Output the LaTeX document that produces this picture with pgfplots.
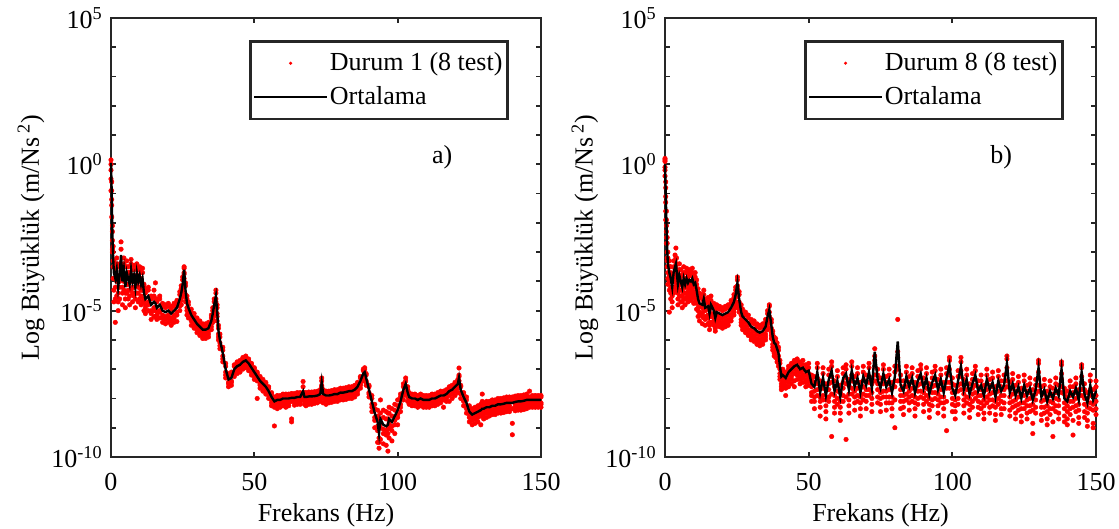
\documentclass[border=0pt]{standalone}
\usepackage{fontspec}
\setmainfont{Liberation Serif}
\usepackage{pgfplots}
\pgfplotsset{compat=1.18}
\usepackage{pgfplotstable}
\definecolor{axgray}{RGB}{38,38,38}

% Magnitudes are stored as log10 values: x = frequency (Hz), m = mean, a..f = individual tests
\pgfplotstableread{
x m a b c d e
0 0.05 0.15 -0.2 -0.5 -0.9 0.0
0.25 -1.0 -0.6 -1.4 -1.8 -0.9 -1.2
0.5 -2.5 -2.1 -2.9 -2.6 -2.3 -3.0
0.75 -3.2 -2.8 -3.5 -3.9 -3.0 -3.3
1 -3.7 -3.3 -4.3 -4.7 -3.5 -3.9
1.5 -3.9 -3.5 -4.6 -5.4 -3.6 -4.2
2 -3.6 -3.2 -4.0 -4.5 -3.4 -3.9
2.5 -4.2 -3.8 -4.7 -5.0 -3.9 -4.4
3 -3.8 -3.4 -4.2 -4.6 -3.5 -4.0
3.5 -3.1 -2.65 -3.4 -3.9 -2.9 -3.6
4 -4.0 -3.6 -4.4 -4.8 -3.7 -4.2
4.5 -3.6 -3.2 -4.0 -4.3 -3.4 -3.8
5 -4.2 -3.8 -4.6 -4.9 -3.9 -4.4
5.5 -3.7 -3.3 -4.1 -4.4 -3.5 -3.9
6 -3.9 -3.5 -4.3 -4.6 -3.7 -4.1
6.5 -4.1 -3.7 -4.5 -4.8 -3.9 -4.3
7 -3.6 -3.25 -4.0 -4.3 -3.4 -3.8
7.5 -4.0 -3.6 -4.4 -4.7 -3.8 -4.2
8 -3.8 -3.45 -4.2 -4.5 -3.6 -4.0
8.5 -4.2 -3.8 -4.6 -4.9 -4.0 -4.4
9 -3.7 -3.4 -4.1 -4.4 -3.5 -3.9
9.5 -4.0 -3.6 -4.4 -4.7 -3.8 -4.2
10 -3.8 -3.5 -4.2 -4.6 -3.6 -4.0
10.5 -4.1 -3.7 -4.5 -4.8 -3.9 -4.3
11 -3.9 -3.55 -4.3 -4.7 -3.7 -4.1
11.5 -4.4 -4.1 -4.7 -5.0 -4.2 -4.6
12 -4.6 -4.3 -4.9 -5.1 -4.4 -4.8
13 -4.5 -4.2 -4.8 -5.0 -4.3 -4.7
14 -4.8 -4.5 -5.1 -5.3 -4.6 -5.0
15 -4.7 -4.3 -5.0 -5.2 -4.5 -4.9
15.5 -4.75 -4.05 -5.0 -5.2 -4.6 -4.9
16 -4.9 -4.6 -5.15 -5.3 -4.7 -5.0
17 -4.8 -4.5 -5.05 -5.25 -4.6 -5.0
18 -5.0 -4.75 -5.25 -5.4 -4.85 -5.15
19 -5.05 -4.8 -5.3 -5.45 -4.9 -5.2
20 -5.0 -4.75 -5.25 -5.4 -4.85 -5.15
21 -5.1 -4.85 -5.35 -5.5 -4.95 -5.25
22 -5.0 -4.75 -5.25 -5.4 -4.85 -5.15
23 -4.9 -4.65 -5.15 -5.37 -4.75 -5.05
24 -4.6 -4.35 -4.85 -5.0 -4.45 -4.75
24.5 -4.4 -4.15 -4.65 -4.8 -4.25 -4.55
25 -4.1 -3.85 -4.35 -4.5 -3.95 -4.25
25.5 -3.6 -3.5 -3.75 -3.9 -3.55 -3.7
26 -4.3 -4.05 -4.55 -4.7 -4.15 -4.45
26.5 -4.75 -4.5 -5.0 -5.15 -4.6 -4.9
27 -4.9 -4.7 -5.1 -5.25 -4.8 -5.0
28 -5.15 -4.95 -5.35 -5.5 -5.05 -5.25
29 -5.3 -5.1 -5.5 -5.6 -5.2 -5.4
30 -5.45 -5.25 -5.65 -5.75 -5.35 -5.55
31 -5.55 -5.35 -5.75 -5.85 -5.45 -5.65
32 -5.65 -5.45 -5.85 -5.95 -5.55 -5.75
33 -5.65 -5.45 -5.85 -5.95 -5.55 -5.75
34 -5.6 -5.4 -5.8 -5.9 -5.5 -5.7
35 -5.35 -5.15 -5.55 -5.65 -5.25 -5.45
35.5 -5.1 -4.9 -5.3 -5.4 -5.0 -5.2
36 -4.8 -4.6 -5.0 -5.1 -4.7 -4.9
36.6 -4.5 -4.3 -4.7 -4.85 -4.4 -4.6
37 -5.0 -4.8 -5.2 -5.35 -4.9 -5.1
37.5 -5.7 -5.5 -5.9 -6.0 -5.6 -5.8
38 -6.0 -5.8 -6.2 -6.3 -5.9 -6.1
39 -6.45 -6.25 -6.65 -6.75 -6.35 -6.55
40 -7.0 -6.8 -7.2 -7.3 -6.9 -7.1
41 -7.35 -7.15 -7.5 -7.6 -7.25 -7.45
42 -7.3 -7.1 -7.45 -7.55 -7.2 -7.4
43 -7.0 -6.85 -7.15 -7.25 -6.9 -7.1
44 -6.9 -6.75 -7.05 -7.15 -6.8 -7.0
45 -6.85 -6.7 -7.0 -7.1 -6.75 -6.95
46 -6.75 -6.6 -6.9 -7.0 -6.65 -6.85
47 -6.7 -6.55 -6.85 -6.95 -6.6 -6.8
48 -6.8 -6.65 -6.95 -7.05 -6.7 -6.9
49 -6.95 -6.8 -7.1 -7.2 -6.85 -7.05
50 -7.1 -6.95 -7.25 -7.35 -7.0 -7.2
51 -7.25 -7.1 -7.4 -8.0 -7.15 -7.35
52 -7.4 -7.25 -7.55 -7.65 -7.3 -7.5
53 -7.5 -7.35 -7.65 -7.75 -7.4 -7.6
54 -7.6 -7.45 -7.75 -7.85 -7.5 -7.7
55 -7.75 -7.6 -7.9 -8.0 -7.65 -7.85
56 -7.95 -7.8 -8.15 -8.25 -7.85 -8.05
57 -8.1 -7.95 -8.3 -8.94 -8.0 -8.2
58 -8.05 -7.9 -8.25 -8.35 -7.95 -8.15
59 -8.05 -7.9 -8.2 -8.3 -7.95 -8.15
60 -8.0 -7.85 -8.15 -8.25 -7.9 -8.1
61 -8.0 -7.85 -8.15 -8.3 -7.9 -8.1
62 -8.0 -7.85 -8.15 -8.25 -7.9 -8.1
63 -7.98 -7.83 -8.7 -8.8 -7.88 -8.1
64 -7.98 -7.83 -8.13 -8.23 -7.88 -8.08
65 -7.95 -7.8 -8.1 -8.2 -7.85 -8.05
66 -7.95 -7.8 -8.1 -8.2 -7.85 -8.05
67 -7.75 -7.42 -7.9 -8.0 -7.6 -7.85
67.5 -7.95 -7.8 -8.1 -8.2 -7.85 -8.05
68 -7.95 -7.8 -8.1 -8.25 -7.85 -8.05
69 -7.93 -7.78 -8.08 -8.2 -7.83 -8.03
70 -7.93 -7.78 -8.08 -8.2 -7.83 -8.03
71 -7.92 -7.77 -8.07 -8.17 -7.82 -8.02
72 -7.9 -7.75 -8.05 -8.15 -7.8 -8.0
73 -7.85 -7.7 -8.0 -8.1 -7.75 -7.95
73.5 -7.45 -7.3 -7.6 -7.7 -7.4 -7.55
74 -7.85 -7.7 -8.0 -8.15 -7.75 -7.95
75 -7.9 -7.75 -8.05 -8.2 -7.8 -8.0
76 -7.9 -7.75 -8.05 -8.15 -7.8 -8.0
77 -7.88 -7.73 -8.03 -8.13 -7.78 -7.98
78 -7.85 -7.7 -8.0 -8.1 -7.75 -7.95
79 -7.85 -7.7 -8.0 -8.1 -7.75 -7.95
80 -7.8 -7.65 -7.95 -8.05 -7.7 -7.9
81 -7.8 -7.65 -7.95 -8.05 -7.7 -7.9
82 -7.78 -7.63 -7.93 -8.03 -7.68 -7.88
83 -7.75 -7.6 -7.9 -8.0 -7.65 -7.85
84 -7.75 -7.6 -7.9 -8.0 -7.65 -7.85
85 -7.7 -7.55 -7.85 -7.95 -7.6 -7.8
86 -7.6 -7.45 -7.75 -7.85 -7.5 -7.7
87 -7.4 -7.25 -7.55 -7.65 -7.3 -7.5
88 -7.15 -7.0 -7.3 -7.4 -7.05 -7.25
88.5 -7.1 -6.95 -7.25 -7.35 -7.0 -7.2
89 -7.3 -7.15 -7.45 -7.55 -7.2 -7.4
90 -7.7 -7.55 -7.85 -7.95 -7.6 -7.8
91 -8.1 -7.9 -8.3 -8.45 -8.0 -8.2
92 -8.5 -8.2 -8.75 -9.0 -8.35 -8.65
93 -8.8 -8.4 -9.1 -9.5 -8.6 -8.95
93.5 -9.2 -8.7 -9.5 -9.7 -8.9 -9.35
94 -8.7 -8.05 -9.0 -9.4 -8.5 -8.85
95 -8.9 -8.4 -9.2 -9.55 -8.65 -9.05
96 -8.95 -8.45 -9.25 -9.6 -8.7 -9.1
96.6 -8.9 -8.5 -9.2 -9.8 -8.7 -9.05
97 -8.7 -8.3 -9.0 -9.35 -8.5 -8.85
98 -8.8 -8.35 -9.1 -9.45 -8.6 -8.95
99 -8.6 -8.2 -8.9 -9.2 -8.4 -8.75
100 -8.4 -8.05 -8.65 -8.9 -8.25 -8.55
101 -8.1 -7.85 -8.3 -8.45 -7.95 -8.2
102 -7.7 -7.5 -7.9 -8.05 -7.6 -7.8
102.8 -7.5 -7.3 -7.65 -7.8 -7.4 -7.6
103.5 -7.8 -7.6 -7.95 -8.1 -7.7 -7.9
104 -7.95 -7.8 -8.1 -8.2 -7.85 -8.05
105 -8.0 -7.85 -8.15 -8.25 -7.9 -8.1
106 -8.0 -7.85 -8.15 -8.25 -7.9 -8.1
107 -8.05 -7.9 -8.2 -8.3 -7.95 -8.15
108 -8.0 -7.85 -8.15 -8.25 -7.9 -8.1
109 -8.05 -7.9 -8.2 -8.3 -7.95 -8.15
110 -8.05 -7.9 -8.2 -8.3 -7.95 -8.15
111 -8.05 -7.9 -8.2 -8.3 -7.95 -8.15
112 -8.0 -7.85 -8.15 -8.25 -7.9 -8.1
113 -8.0 -7.85 -8.15 -8.25 -7.9 -8.1
114 -7.95 -7.8 -8.1 -8.2 -7.85 -8.05
115 -7.9 -7.75 -8.05 -8.15 -7.8 -8.0
116 -7.9 -7.75 -8.05 -8.3 -7.8 -8.0
117 -7.85 -7.7 -8.0 -8.1 -7.75 -7.95
118 -7.75 -7.6 -7.9 -8.1 -7.65 -7.85
119 -7.7 -7.55 -7.85 -8.0 -7.6 -7.8
120 -7.6 -7.45 -7.75 -7.9 -7.5 -7.7
121 -7.5 -7.35 -7.65 -7.8 -7.4 -7.6
121.4 -7.3 -6.96 -7.2 -7.5 -7.25 -7.4
122 -7.7 -7.55 -7.85 -8.0 -7.6 -7.8
123 -7.95 -7.8 -8.1 -8.25 -7.85 -8.05
124 -8.15 -7.95 -8.35 -8.5 -8.05 -8.25
125 -8.45 -8.25 -8.65 -8.8 -8.35 -8.55
126 -8.55 -8.35 -8.75 -8.9 -8.45 -8.65
127 -8.5 -8.3 -8.7 -8.85 -8.4 -8.6
128 -8.45 -8.25 -8.65 -8.8 -8.35 -8.55
129 -8.4 -8.2 -8.6 -8.9 -8.3 -8.5
129.5 -8.35 -7.85 -8.1 -8.6 -8.3 -8.5
130 -8.35 -8.15 -8.55 -8.7 -8.25 -8.45
131 -8.3 -8.1 -8.5 -8.65 -8.2 -8.4
132 -8.3 -8.1 -8.5 -8.6 -8.2 -8.4
133 -8.25 -8.05 -8.45 -8.55 -8.15 -8.35
134 -8.25 -8.05 -8.45 -8.55 -8.15 -8.35
135 -8.2 -8.0 -8.4 -8.5 -8.1 -8.3
136 -8.2 -8.0 -8.4 -8.5 -8.1 -8.3
137 -8.18 -7.98 -8.38 -8.48 -8.08 -8.28
138 -8.15 -7.95 -8.35 -8.45 -8.05 -8.25
139 -8.15 -7.95 -8.35 -8.45 -8.05 -8.25
140 -8.15 -7.95 -8.35 -8.85 -8.05 -9.24
141 -8.12 -7.92 -8.32 -8.42 -8.02 -8.22
142 -8.1 -7.9 -8.3 -8.4 -8.0 -8.2
143 -8.1 -7.9 -8.3 -8.4 -8.0 -8.2
144 -8.08 -7.88 -8.28 -8.38 -7.98 -8.18
145 -8.05 -7.85 -8.25 -8.35 -7.95 -8.15
146 -8.05 -7.75 -8.2 -8.3 -7.95 -8.15
147 -8.05 -7.9 -8.2 -8.3 -7.95 -8.15
148 -8.05 -7.9 -8.2 -8.3 -7.95 -8.15
149 -8.05 -7.9 -8.2 -8.3 -7.95 -8.15
150 -8.05 -7.9 -8.2 -8.3 -7.95 -8.15
}\durumA

\pgfplotstableread{
x m a b c d e f
0 0.0 0.2 0.1 -0.2 -0.4 -0.1 0.15
0.25 -1.0 -0.6 -1.3 -1.6 -0.8 -1.1 -1.9
0.5 -2.0 -1.6 -2.3 -2.7 -1.9 -2.1 -2.5
0.75 -2.9 -2.5 -3.2 -3.5 -2.7 -3.0 -3.3
1 -3.4 -3.0 -3.7 -4.1 -3.2 -3.5 -3.9
1.5 -3.7 -3.3 -4.0 -5.05 -3.5 -3.8 -4.3
2 -3.9 -3.5 -4.2 -4.6 -3.7 -4.0 -4.4
2.5 -4.2 -3.8 -4.5 -4.9 -4.0 -4.3 -4.7
3 -3.7 -3.3 -4.0 -4.4 -3.5 -3.8 -4.2
3.5 -3.5 -3.1 -3.8 -4.2 -3.3 -3.6 -4.0
3.8 -3.4 -2.86 -3.7 -4.0 -3.2 -3.5 -3.9
4 -3.6 -3.2 -3.9 -4.3 -3.4 -3.7 -4.1
4.5 -4.1 -3.7 -4.4 -4.8 -3.9 -4.2 -4.6
5 -3.8 -3.4 -4.1 -4.5 -3.6 -3.9 -4.3
5.5 -4.0 -3.6 -4.3 -4.7 -3.8 -4.1 -4.5
6 -4.2 -3.8 -4.5 -4.9 -4.0 -4.3 -4.7
6.5 -3.9 -3.5 -4.2 -4.6 -3.7 -4.0 -4.4
7 -4.1 -3.7 -4.4 -4.8 -3.9 -4.2 -4.6
7.5 -3.9 -3.55 -4.2 -4.55 -3.7 -4.0 -4.4
8 -4.05 -3.7 -4.35 -4.7 -3.85 -4.15 -4.5
8.5 -3.95 -3.6 -4.25 -4.6 -3.75 -4.05 -4.4
9 -4.0 -3.65 -4.3 -4.65 -3.8 -4.1 -4.45
9.5 -3.9 -3.55 -4.2 -4.55 -3.7 -4.0 -4.35
10 -4.1 -3.75 -4.4 -4.75 -3.9 -4.2 -4.55
10.5 -4.05 -3.7 -4.35 -4.7 -3.85 -4.15 -4.5
11 -4.3 -3.95 -4.6 -4.95 -4.1 -4.4 -4.75
11.5 -4.6 -4.25 -4.9 -5.2 -4.4 -4.7 -5.0
12 -4.75 -4.4 -5.05 -5.35 -4.55 -4.85 -5.15
13 -4.8 -4.45 -5.1 -5.45 -4.6 -4.9 -5.2
13.5 -4.6 -4.3 -4.9 -5.25 -4.45 -4.7 -5.0
14 -4.9 -4.6 -5.2 -5.5 -4.75 -5.0 -5.3
15 -4.85 -4.55 -5.15 -5.45 -4.7 -4.95 -5.25
15.5 -5.1 -4.8 -5.4 -5.65 -4.95 -5.2 -5.5
16 -4.8 -4.5 -5.1 -5.4 -4.65 -4.9 -5.2
17 -5.0 -4.75 -5.25 -5.5 -4.85 -5.1 -5.35
17.5 -5.25 -5.0 -5.5 -5.7 -5.1 -5.35 -5.6
18 -5.05 -4.8 -5.3 -5.5 -4.9 -5.15 -5.4
19 -5.1 -4.85 -5.35 -5.55 -4.95 -5.2 -5.45
20 -5.15 -4.9 -5.4 -5.6 -5.0 -5.25 -5.5
21 -5.1 -4.85 -5.35 -5.55 -4.95 -5.2 -5.45
22 -5.05 -4.8 -5.3 -5.5 -4.9 -5.15 -5.4
23 -4.9 -4.65 -5.15 -5.35 -4.75 -5.0 -5.25
24 -4.7 -4.45 -4.95 -5.15 -4.55 -4.8 -5.05
24.6 -4.45 -4.2 -4.7 -4.9 -4.3 -4.55 -4.8
25.2 -4.05 -3.85 -4.25 -4.45 -3.95 -4.15 -4.35
25.8 -4.6 -4.35 -4.85 -5.05 -4.45 -4.7 -4.95
26.5 -5.05 -4.8 -5.3 -5.5 -4.9 -5.15 -5.4
27 -5.2 -4.95 -5.45 -5.65 -5.05 -5.3 -5.55
28 -5.3 -5.05 -5.55 -5.75 -5.15 -5.4 -5.65
29 -5.4 -5.15 -5.65 -5.85 -5.25 -5.5 -5.75
30 -5.55 -5.3 -5.8 -6.0 -5.4 -5.65 -5.9
31 -5.6 -5.35 -5.85 -6.05 -5.45 -5.7 -5.95
32 -5.7 -5.45 -5.95 -6.15 -5.55 -5.8 -6.05
33 -5.75 -5.5 -6.0 -6.2 -5.6 -5.85 -6.1
34 -5.7 -5.45 -5.95 -6.15 -5.55 -5.8 -6.05
35 -5.55 -5.3 -5.8 -6.0 -5.4 -5.65 -5.9
35.7 -5.2 -5.0 -5.45 -5.65 -5.1 -5.3 -5.55
36.3 -4.97 -4.8 -5.2 -5.4 -4.85 -5.05 -5.3
37 -5.5 -5.3 -5.75 -5.95 -5.4 -5.6 -5.85
37.5 -5.9 -5.7 -6.15 -6.35 -5.8 -6.0 -6.25
38 -6.1 -5.9 -6.35 -6.55 -6.0 -6.2 -6.45
38.5 -6.15 -5.95 -6.4 -6.6 -6.05 -6.25 -6.5
39 -6.3 -6.1 -6.55 -6.75 -6.2 -6.4 -6.65
39.5 -6.45 -6.25 -6.7 -6.9 -6.35 -6.55 -6.8
40 -6.9 -6.7 -7.15 -7.35 -6.8 -7.0 -7.25
40.5 -7.25 -7.05 -7.5 -7.7 -7.15 -7.35 -7.6
41 -7.2 -7.0 -7.45 -7.65 -7.1 -7.3 -7.55
42 -7.3 -7.1 -7.55 -7.9 -7.2 -7.4 -7.65
43 -7.1 -6.9 -7.35 -7.6 -7.0 -7.2 -7.45
44 -7.0 -6.8 -7.25 -7.5 -6.9 -7.1 -7.35
45 -6.9 -6.7 -7.15 -7.4 -6.8 -7.0 -7.6
46 -6.85 -6.65 -7.1 -7.35 -6.75 -6.95 -7.2
47 -7.0 -6.75 -7.25 -7.5 -6.9 -7.1 -7.35
48 -6.95 -6.7 -7.2 -7.45 -6.85 -7.05 -7.3
49 -7.1 -6.85 -7.35 -7.6 -7.0 -7.2 -7.45
50 -7.05 -6.8 -7.3 -7.55 -6.95 -7.15 -7.4
51 -7.5 -7.2 -7.8 -8.1 -7.35 -7.6 -7.9
52 -7.6 -7.25 -7.95 -8.35 -7.45 -7.75 -8.1
53 -7.1 -6.8 -7.5 -7.9 -6.95 -7.3 -7.7
54 -7.8 -7.4 -8.1 -8.6 -7.65 -7.95 -8.3
55 -7.3 -6.95 -7.65 -8.05 -7.15 -7.5 -7.9
56 -7.9 -7.5 -8.25 -8.7 -7.7 -8.05 -8.45
57 -7.35 -7.0 -7.7 -8.1 -7.2 -7.5 -7.95
58 -7.05 -6.75 -7.45 -7.85 -6.9 -7.25 -9.3
59 -7.75 -7.4 -8.1 -8.5 -7.6 -7.9 -8.3
60 -7.4 -7.05 -7.75 -8.2 -7.25 -7.55 -8.0
61 -7.95 -7.55 -8.3 -8.75 -7.8 -8.1 -8.5
62 -7.3 -6.95 -7.65 -8.1 -7.15 -7.45 -7.9
63 -7.15 -6.85 -7.5 -7.95 -7.0 -7.3 -9.4
64 -7.7 -7.35 -8.05 -8.5 -7.55 -7.85 -8.25
65 -7.05 -6.75 -7.4 -7.85 -6.9 -7.2 -7.65
66 -7.6 -7.25 -7.95 -8.4 -7.45 -7.75 -8.15
67 -7.3 -6.95 -7.65 -8.1 -7.15 -7.45 -7.9
68 -7.8 -7.45 -8.15 -8.6 -7.65 -7.95 -8.35
69 -7.25 -6.9 -7.6 -8.05 -7.1 -7.4 -7.85
70 -7.55 -7.2 -7.9 -8.35 -7.4 -7.7 -8.1
71 -7.1 -6.8 -7.45 -7.9 -6.95 -7.25 -7.7
72 -7.65 -7.3 -8.0 -8.45 -7.5 -7.8 -8.2
73 -6.4 -6.3 -6.7 -7.2 -6.55 -6.9 -7.4
74 -7.35 -7.0 -7.7 -8.15 -7.2 -7.5 -7.95
75 -7.65 -7.3 -8.0 -8.45 -7.5 -7.8 -8.2
76 -7.15 -6.85 -7.5 -7.95 -7.0 -7.3 -7.75
77 -7.6 -7.25 -7.95 -8.4 -7.45 -7.75 -8.15
78 -7.35 -7.0 -7.7 -8.15 -7.2 -7.5 -7.95
79 -7.8 -7.45 -8.15 -8.6 -7.65 -7.95 -8.35
80 -7.25 -6.9 -7.6 -8.05 -7.1 -7.4 -9.0
81 -6.05 -5.3 -6.4 -7.0 -6.6 -6.9 -7.4
82 -7.55 -7.2 -7.9 -8.35 -7.4 -7.7 -8.1
83 -7.75 -7.4 -8.1 -8.55 -7.6 -7.9 -8.3
84 -7.25 -6.9 -7.6 -8.05 -7.1 -7.4 -7.85
85 -7.6 -7.25 -7.95 -8.4 -7.45 -7.75 -8.15
86 -7.3 -6.95 -7.65 -8.1 -7.15 -7.45 -7.9
87 -7.8 -7.45 -8.15 -8.6 -7.65 -7.95 -8.35
88 -7.4 -7.05 -7.75 -8.2 -7.25 -7.55 -8.0
89 -7.15 -6.85 -7.5 -7.95 -7.0 -7.3 -7.75
90 -7.65 -7.3 -8.0 -8.45 -7.5 -7.8 -8.2
91 -7.3 -6.95 -7.65 -8.1 -7.15 -7.45 -7.9
92 -7.85 -7.5 -8.2 -8.65 -7.7 -8.0 -8.4
93 -7.45 -7.1 -7.8 -8.25 -7.3 -7.6 -8.05
94 -7.2 -6.9 -7.55 -8.0 -7.05 -7.35 -7.8
95 -7.7 -7.35 -8.05 -8.5 -7.55 -7.85 -8.25
96 -7.35 -7.0 -7.7 -8.15 -7.2 -7.5 -7.95
97 -7.8 -7.45 -8.15 -8.6 -7.65 -7.95 -8.35
98 -7.3 -6.95 -7.65 -8.1 -7.15 -7.45 -9.1
99 -6.85 -6.6 -7.2 -7.65 -6.7 -7.0 -7.45
100 -7.65 -7.3 -8.0 -8.45 -7.5 -7.8 -8.2
101 -7.9 -7.55 -8.25 -8.7 -7.75 -8.05 -8.45
102 -7.4 -7.05 -7.75 -8.2 -7.25 -7.55 -8.0
103 -6.9 -6.6 -7.25 -7.7 -6.75 -7.05 -7.5
104 -7.7 -7.35 -8.05 -8.5 -7.55 -7.85 -8.25
105 -7.35 -7.0 -7.7 -8.15 -7.2 -7.5 -7.95
106 -7.85 -7.5 -8.2 -8.65 -7.7 -8.0 -8.4
107 -7.5 -7.15 -7.85 -8.3 -7.35 -7.65 -8.1
108 -7.2 -6.9 -7.55 -8.0 -7.05 -7.35 -7.8
109 -7.75 -7.4 -8.1 -8.55 -7.6 -7.9 -8.3
110 -7.55 -7.2 -7.9 -8.35 -7.4 -7.7 -8.15
111 -7.9 -7.55 -8.25 -8.7 -7.75 -8.05 -8.5
112 -7.35 -7.0 -7.7 -8.15 -7.2 -7.5 -7.95
113 -7.7 -7.35 -8.05 -8.5 -7.55 -7.85 -8.3
114 -7.45 -7.1 -7.8 -8.25 -7.3 -7.6 -8.05
115 -7.95 -7.6 -8.3 -8.75 -7.8 -8.1 -8.55
116 -7.4 -7.05 -7.75 -8.2 -7.25 -7.55 -8.0
117 -7.75 -7.4 -8.1 -8.55 -7.6 -7.9 -8.35
118 -7.55 -7.2 -7.9 -8.35 -7.4 -7.7 -8.15
119 -6.8 -6.55 -7.15 -7.6 -6.65 -6.95 -7.4
120 -7.8 -7.45 -8.15 -8.6 -7.65 -7.95 -8.4
121 -7.5 -7.15 -7.85 -8.3 -7.35 -7.65 -8.1
122 -7.9 -7.55 -8.25 -8.7 -7.75 -8.05 -8.5
123 -7.6 -7.25 -7.95 -8.4 -7.45 -7.75 -8.2
124 -8.0 -7.65 -8.35 -8.8 -7.85 -8.15 -8.6
125 -7.55 -7.2 -7.9 -8.35 -7.4 -7.7 -8.15
126 -7.9 -7.55 -8.25 -8.7 -7.75 -8.05 -8.5
127 -7.65 -7.3 -8.0 -8.45 -7.5 -7.8 -8.25
128 -8.05 -7.7 -8.4 -8.85 -7.9 -8.2 -9.2
129 -7.7 -7.35 -8.05 -8.5 -7.55 -7.85 -8.3
130 -6.95 -6.7 -7.3 -7.75 -6.8 -7.1 -7.55
131 -7.95 -7.6 -8.3 -8.75 -7.8 -8.1 -8.55
132 -7.7 -7.35 -8.05 -8.5 -7.55 -7.85 -8.3
133 -8.1 -7.75 -8.45 -8.9 -7.95 -8.25 -8.7
134 -7.75 -7.4 -8.1 -8.55 -7.6 -7.9 -8.35
135 -8.0 -7.65 -8.35 -8.8 -7.85 -8.15 -9.3
136 -7.65 -7.3 -8.0 -8.45 -7.5 -7.8 -8.25
137 -7.9 -7.55 -8.25 -8.7 -7.75 -8.05 -8.5
138 -7.0 -6.75 -7.35 -7.8 -6.85 -7.15 -7.6
139 -8.0 -7.65 -8.35 -8.8 -7.85 -8.15 -8.6
140 -8.1 -7.75 -8.45 -8.9 -7.95 -8.25 -8.7
141 -7.75 -7.4 -8.1 -8.55 -7.6 -7.9 -8.35
142 -7.95 -7.6 -8.3 -8.75 -7.8 -8.1 -9.25
143 -7.65 -7.3 -8.0 -8.45 -7.5 -7.8 -8.25
144 -8.05 -7.7 -8.4 -8.85 -7.9 -8.2 -8.65
145 -7.1 -6.85 -7.45 -7.9 -6.95 -7.25 -7.7
146 -7.85 -7.5 -8.2 -8.65 -7.7 -8.0 -8.45
147 -8.15 -7.8 -8.5 -8.95 -8.0 -8.3 -8.75
148 -7.55 -7.2 -7.9 -8.35 -7.4 -7.7 -8.15
149 -8.05 -7.7 -8.4 -8.85 -7.9 -8.2 -9.0
150 -7.75 -7.4 -8.1 -8.55 -7.6 -7.9 -8.35
}\durumB

\pgfplotsset{
  panel/.style={
    set layers,
    scale only axis, width=430pt, height=439pt,
    xmin=0, xmax=150, ymin=-10, ymax=5,
    xtick={0,50,100,150}, xticklabels={0,50,100,150},
    ytick={-10,-9,...,5},
    yticklabels={10\textsuperscript{-10},,,,,10\textsuperscript{-5},,,,,10\textsuperscript{0},,,,,10\textsuperscript{5}},
    tick align=inside, tick pos=both,
    major tick length=5pt,
    axis line style={axgray, line width=2.8pt},
    every tick/.style={axgray, line width=1.8pt},
    xticklabel style={yshift=-7pt},
    xlabel={Frekans (Hz)},
    ylabel={Log Büyüklük (m/Ns\,\textsuperscript{2})},
    every axis x label/.style={at={(axis description cs:0.5,-0.133)}, anchor=center},
    every axis y label/.style={at={(axis description cs:-0.186,0.5)}, anchor=center, rotate=90},
    legend cell align=left,
    legend style={at={(axis description cs:0.925,0.95)}, anchor=north east,
      draw=axgray, line width=2.6pt, fill=white, inner xsep=3pt, inner ysep=9pt,
      row sep=8pt},
    clip=false,
  },
  testdots/.style={only marks, mark=*, mark size=2.3pt, red, mark options={draw=none, fill=red}},
  dotlegend/.style={legend image code/.code={%
    \path[draw=none, fill=none] (0pt,0pt) -- (73pt,0pt);
    \fill[red, draw=none] (36.5pt,0pt) circle (1.7pt);}},
  meanline/.style={black, line width=2.4pt, no marks, on layer=axis foreground,
    legend image code/.code={\draw[black, line width=1.5pt] (0pt,0pt) -- (73pt,0pt);}},
}

\begin{document}
\fontsize{26}{30}\selectfont
\begin{tikzpicture}
\begin{axis}[panel, at={(0pt,0pt)}, anchor=south west]
  \addplot[testdots, dotlegend] table[x=x, y=a] {\durumA};
  \addlegendentry{Durum 1 (8 test)}
  \addplot[testdots, forget plot] table[x=x, y=b] {\durumA};
  \addplot[testdots, forget plot] table[x=x, y=c] {\durumA};
  \addplot[testdots, forget plot] table[x=x, y=d] {\durumA};
  \addplot[testdots, forget plot] table[x=x, y=e] {\durumA};
  \addplot[meanline] table[x=x, y=m] {\durumA};
  \addlegendentry{Ortalama}
  \node at (axis cs:115.5,0.25) {a)};
\end{axis}
\begin{axis}[panel, width=431pt, at={(554pt,0pt)}, anchor=south west]
  \addplot[testdots, dotlegend] table[x=x, y=a] {\durumB};
  \addlegendentry{Durum 8 (8 test)}
  \addplot[testdots, forget plot] table[x=x, y=b] {\durumB};
  \addplot[testdots, forget plot] table[x=x, y=c] {\durumB};
  \addplot[testdots, forget plot] table[x=x, y=d] {\durumB};
  \addplot[testdots, forget plot] table[x=x, y=e] {\durumB};
  \addplot[testdots, forget plot] table[x=x, y=f] {\durumB};
  \addplot[meanline] table[x=x, y=m] {\durumB};
  \addlegendentry{Ortalama}
  \node at (axis cs:117,0.25) {b)};
\end{axis}
\pgfresetboundingbox
\path (-111pt,-72pt) rectangle (1008pt,457pt);
\end{tikzpicture}
\end{document}
